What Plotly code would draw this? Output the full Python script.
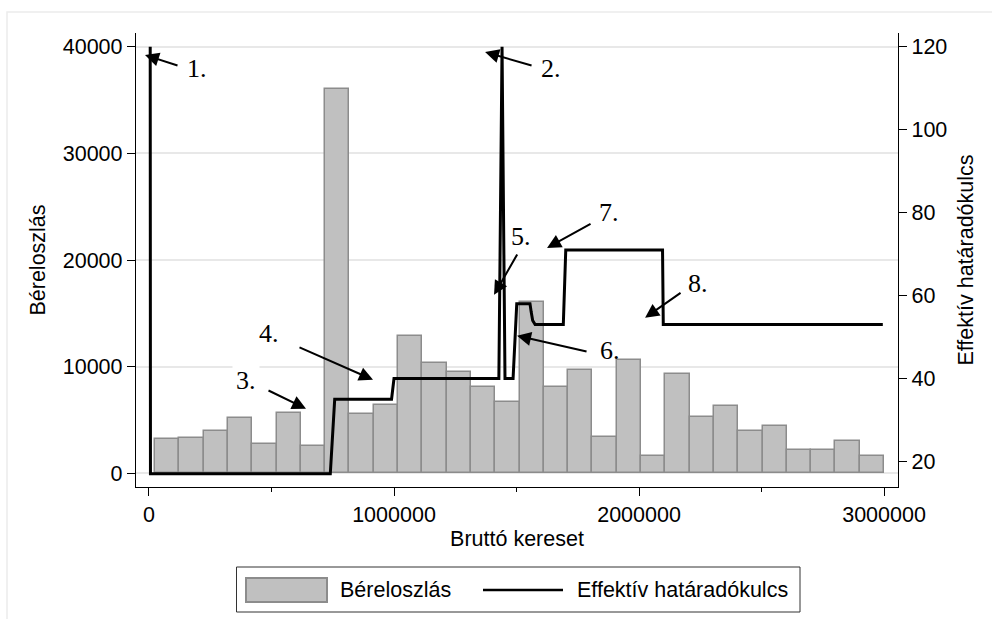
import plotly.graph_objects as go

# Histogram of gross monthly earnings (30 equal-width bins)
bin_start = 25000
bin_end = 3000000
counts = [3230, 3330, 3980, 5160, 2790, 5670, 2600, 36000, 5540, 6450,
          12850, 10360, 9540, 8140, 6700, 16040, 8110, 9730, 3450, 10600,
          1600, 9350, 5260, 6350, 3980, 4480, 2230, 2230, 3010, 1670]

# Effective marginal tax rate schedule (%)
wage_x = [5000, 6000, 740000, 758000, 990000, 1000000, 1428000, 1441000, 1453000,
          1486000, 1501000, 1555000, 1560000, 1566000, 1576000, 1691000, 1701000,
          2096000, 2099000, 2995000]
rate_y = [120, 17, 17, 35, 35, 40, 40, 120, 40,
          40, 58, 58, 56, 54, 53, 53, 71,
          71, 53, 53]

# Numbered callouts: label, label position, arrow tail, arrow tip (x, left-axis y)
callout_text = ["1.", "2.", "3.", "4.", "5.", "6.", "7.", "8."]
callout_pos = [(196000, 38000), (1641000, 38000), (396000, 8680), (489800, 13090),
               (1518500, 22170), (1881800, 11490), (1877700, 24500), (2241000, 17770)]
arrow_tail = [(122500, 38190), (1567500, 38190), (481700, 7840), (608200, 11870),
              (1506300, 20670), (1792000, 11400), (1808300, 23470), (2175700, 17020)]
arrow_tip = [(-16300, 39220), (1371600, 39500), (640900, 6060), (914400, 8780),
             (1408300, 16740), (1502200, 12900), (1624600, 21140), (2024700, 14590)]

x_ticks = [0, 1000000, 2000000, 3000000]
x_minor = [500000, 1500000, 2500000]
left_ticks = [0, 10000, 20000, 30000, 40000]
right_ticks = [20, 40, 60, 80, 100, 120]

bar_name = "Béreloszlás"
line_name = "Effektív határadókulcs"

W, H = 992, 619
ML, MR, MT, MB = 136, 94, 33, 132
PW, PH = W - ML - MR, H - MT - MB


def px(xp):
    return (xp - ML) / PW


def py(yp):
    return (H - MB - yp) / PH


bin_w = (bin_end - bin_start) / len(counts)
centers = [bin_start + (i + 0.5) * bin_w for i in range(len(counts))]

SANS = "Liberation Sans, Arial, sans-serif"
SERIF = "Liberation Serif, Times New Roman, serif"
FS = 21.5
BAR_FILL = "#c0c0c0"
BAR_EDGE = "#8c8c8c"

fig = go.Figure()
fig.add_trace(go.Bar(
    x=centers, y=counts, width=[bin_w] * len(counts),
    marker=dict(color=BAR_FILL, line=dict(color=BAR_EDGE, width=1.5)),
    name=bar_name, yaxis="y", showlegend=False,
))
fig.add_trace(go.Scatter(
    x=wage_x, y=rate_y, mode="lines",
    line=dict(color="black", width=3),
    name=line_name, yaxis="y2", showlegend=False,
))

annotations = []
for (tx, ty), (ax, ay) in zip(arrow_tip, arrow_tail):
    annotations.append(dict(
        x=tx, y=ty, xref="x", yref="y", ax=ax, ay=ay, axref="x", ayref="y",
        text="", showarrow=True, arrowhead=2, arrowsize=1.4, arrowwidth=2,
        arrowcolor="black", standoff=0, startstandoff=0,
    ))
for label, (lx, ly) in zip(callout_text, callout_pos):
    annotations.append(dict(
        x=lx, y=ly, xref="x", yref="y", text=label, showarrow=False,
        font=dict(family=SERIF, size=26, color="black"),
        xanchor="center", yanchor="middle",
        bgcolor="white" if label == "3." else "rgba(0,0,0,0)", borderpad=3,
    ))

# Hand-built legend below the axis title
annotations.append(dict(
    x=px(338), y=py(590), xref="paper", yref="paper", text=bar_name,
    showarrow=False, xanchor="left", yanchor="middle",
    font=dict(family=SANS, size=FS, color="black"),
))
annotations.append(dict(
    x=px(575), y=py(590), xref="paper", yref="paper", text=line_name,
    showarrow=False, xanchor="left", yanchor="middle",
    font=dict(family=SANS, size=FS, color="black"),
))

shapes = [
    # faint outer frame of the graph region
    dict(type="rect", xref="paper", yref="paper",
         x0=px(7), x1=px(1000), y0=py(630), y1=py(12),
         line=dict(color="#ececec", width=1.5), fillcolor="rgba(0,0,0,0)", layer="below"),
    # legend box
    dict(type="rect", xref="paper", yref="paper",
         x0=px(236.5), x1=px(800), y0=py(612), y1=py(567),
         line=dict(color="#333333", width=1), fillcolor="white"),
    # legend swatch for the bars
    dict(type="rect", xref="paper", yref="paper",
         x0=px(246), x1=px(327), y0=py(602), y1=py(578),
         line=dict(color=BAR_EDGE, width=2), fillcolor=BAR_FILL),
    # legend sample for the line
    dict(type="line", xref="paper", yref="paper",
         x0=px(483), x1=px(563), y0=py(590), y1=py(590),
         line=dict(color="black", width=2.5)),
]

axis_common = dict(
    showline=True, linecolor="black", linewidth=1.3,
    ticks="outside", ticklen=8, tickwidth=1, tickcolor="black",
    zeroline=False, tickfont=dict(family=SANS, size=FS, color="black"),
)

fig.update_layout(
    width=W, height=H,
    margin=dict(l=ML, r=MR, t=MT, b=MB, pad=0),
    paper_bgcolor="white", plot_bgcolor="white",
    font=dict(family=SANS, size=FS, color="black"),
    bargap=0,
    showlegend=False,
    xaxis=dict(
        range=[-53000, 3057000],
        tickvals=x_ticks, ticktext=[str(v) for v in x_ticks],
        showgrid=False,
        minor=dict(tickvals=x_minor, ticks="outside", ticklen=4,
                   tickcolor="black", showgrid=False),
        title=dict(text="Bruttó kereset", standoff=4,
                   font=dict(family=SANS, size=FS, color="black")),
        automargin=False,
        **axis_common,
    ),
    yaxis=dict(
        range=[-1274, 41283],
        tickvals=left_ticks, ticktext=[str(v) for v in left_ticks],
        showgrid=True, gridcolor="#e8e8e8", gridwidth=1.5,
        title=dict(text=bar_name, standoff=11,
                   font=dict(family=SANS, size=FS, color="black")),
        automargin=False,
        **axis_common,
    ),
    yaxis2=dict(
        range=[13.83, 123.3], overlaying="y", side="right",
        tickvals=right_ticks, ticktext=[str(v) for v in right_ticks],
        showgrid=False,
        title=dict(text=line_name, standoff=11,
                   font=dict(family=SANS, size=FS, color="black")),
        automargin=False,
        **axis_common,
    ),
    annotations=annotations,
    shapes=shapes,
)

fig.write_html("out.html")
